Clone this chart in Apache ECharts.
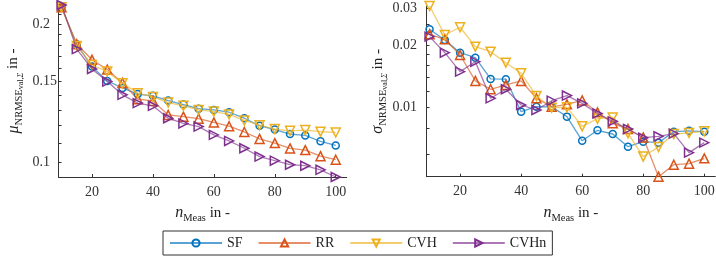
<!DOCTYPE html>
<html><head><meta charset="utf-8">
<script src="https://cdn.jsdelivr.net/npm/echarts@6/dist/echarts.min.js"></script>
<style>html,body{margin:0;padding:0;background:#fff}#c{width:716px;height:256px}</style>
</head><body><div id="c"></div>
<script>
// ---- data ----
const nMeas = [10,15,20,25,30,35,40,45,50,55,60,65,70,75,80,85,90,95,100];
const muSF   = [0.2172,0.1805,0.1614,0.1502,0.1450,0.1406,0.1394,0.1361,0.1334,0.1307,0.1299,0.1284,0.1246,0.1200,0.1177,0.1151,0.1143,0.1110,0.1087];
const muRR   = [0.2172,0.1805,0.1670,0.1590,0.1487,0.1371,0.1359,0.1267,0.1256,0.1243,0.1220,0.1197,0.1163,0.1123,0.1100,0.1071,0.1062,0.1030,0.1012];
const muCVH  = [0.2172,0.1790,0.1627,0.1574,0.1485,0.1413,0.1386,0.1348,0.1326,0.1299,0.1288,0.1270,0.1232,0.1203,0.1180,0.1170,0.1174,0.1165,0.1160];
const muCVHn = [0.2198,0.1762,0.1595,0.1497,0.1401,0.1344,0.1326,0.1246,0.1214,0.1195,0.1146,0.1112,0.1072,0.1028,0.1007,0.0987,0.0982,0.0962,0.0928];
const sdSF   = [0.02375,0.0211,0.01834,0.01736,0.01373,0.0137,0.00957,0.01011,0.0101,0.00906,0.00694,0.00779,0.00748,0.00650,0.00687,0.0068,0.00767,0.00775,0.00767];
const sdRR   = [0.02247,0.02127,0.01788,0.01343,0.01225,0.01285,0.01343,0.01109,0.0101,0.01038,0.01083,0.00950,0.00842,0.0079,0.0072,0.00467,0.00533,0.00539,0.00572];
const sdCVH  = [0.0307,0.0223,0.02428,0.0196,0.01855,0.01643,0.01462,0.01138,0.0100,0.01004,0.00814,0.00885,0.00898,0.00754,0.00583,0.00648,0.00747,0.00757,0.0077];
const sdCVHn = [0.02189,0.01834,0.01488,0.01661,0.01109,0.01225,0.0103,0.00975,0.0108,0.01143,0.01049,0.00938,0.0086,0.0079,0.00718,0.00729,0.00751,0.00609,0.0068];
const methods = ['SF','RR','CVH','CVHn'];
const xTicks = [20,40,60,80,100];
const muLabels = [0.1,0.15,0.2];
const muTicks = [0.1,0.11,0.12,0.13,0.14,0.15,0.16,0.17,0.18,0.19,0.2,0.21];
const sdLabels = [0.01,0.02,0.03];
const sdTicks = [0.006,0.008,0.01,0.012,0.014,0.016,0.018,0.02,0.025,0.03];

// ---- style ----
const FONT = "'Liberation Serif', 'DejaVu Serif', serif";
const colors = ['#0072BD','#D95319','#EDB120','#7E2F8E'];
const lineColors = ['rgba(0,114,189,0.65)','rgba(217,83,25,0.65)','rgba(237,177,32,0.65)','rgba(126,47,142,0.65)'];
const symbols = ['circle','triangle','triangle','triangle'];
const rots = [0,0,180,-90];
const sizes = [7,9,9,9];
const AX = '#333';

function series(idx, vals, ai){
  return {
    type:'line', name:methods[idx], xAxisIndex:ai, yAxisIndex:ai,
    data: nMeas.map((n,i)=>[n, vals[i]]),
    symbol: symbols[idx], symbolRotate: rots[idx], symbolSize: sizes[idx], showSymbol:true,
    lineStyle:{color:lineColors[idx], width:1.3},
    itemStyle:{color:'rgba(255,255,255,0)', borderColor:colors[idx], borderWidth:1.5},
    clip:false, animation:false, z: 2+idx
  };
}
const rich = {
  m:{fontFamily:FONT,fontSize:15,lineHeight:22,verticalAlign:'middle',color:'#222'},
  it:{fontFamily:FONT,fontSize:16,fontStyle:'italic',lineHeight:22,verticalAlign:'middle',color:'#222'},
  sub:{fontFamily:FONT,fontSize:10.5,lineHeight:13,verticalAlign:'bottom',color:'#222'},
  ss:{fontFamily:FONT,fontSize:8,lineHeight:7,verticalAlign:'bottom',color:'#222'},
  ssi:{fontFamily:FONT,fontSize:8,fontStyle:'italic',lineHeight:7,verticalAlign:'bottom',color:'#222'}
};
function xAxis(gi){
  return {
    gridIndex:gi, type:'value', min:9, max:103.6, position:'bottom',
    axisLine:{show:true,onZero:false,lineStyle:{color:AX,width:1}},
    axisTick:{show:true,inside:true,length:3,customValues:xTicks,lineStyle:{color:AX}},
    axisLabel:{customValues:xTicks,margin:8,fontFamily:FONT,fontSize:14,color:'#333'},
    splitLine:{show:false},
    name:'{it|n}{sub|Meas}{m| in -}', nameLocation:'middle', nameGap:25,
    nameTextStyle:{rich:rich}
  };
}
function fmt(v){ return String(Math.round(v*1000)/1000); }
function yAxis(gi, ticks, labels, nm, margin, gap){
  return {
    gridIndex:gi, type:'log', logBase:10, min:'dataMin', max:'dataMax',
    axisLine:{show:true,lineStyle:{color:AX,width:1}},
    axisTick:{show:true,inside:true,length:3,customValues:ticks,lineStyle:{color:AX}},
    axisLabel:{customValues:labels,align:'left',margin:margin,fontFamily:FONT,fontSize:14,color:'#333',formatter:fmt},
    splitLine:{show:false}, minorTick:{show:false}, minorSplitLine:{show:false},
    name:nm, nameLocation:'middle', nameGap:gap, nameRotate:90,
    nameTextStyle:{rich:rich}
  };
}

const chart = echarts.init(document.getElementById('c'), null, {renderer:'canvas'});
const muData = [muSF,muRR,muCVH,muCVHn];
const sdData = [sdSF,sdRR,sdCVH,sdCVHn];
chart.setOption({
  animation:false,
  backgroundColor:'#fff',
  grid:[
    {left:58.5, right:369.3, top:5, bottom:79, containLabel:false, outerBoundsMode:'none'},
    {left:426.5, right:0.7, top:6, bottom:79.3, containLabel:false, outerBoundsMode:'none'}
  ],
  xAxis:[xAxis(0), xAxis(1)],
  yAxis:[
    yAxis(0, muTicks, muLabels, '{it|μ}{sub|NRMSE}{ss|val,}{ssi|Σ}{m| in -}', 26, 34),
    yAxis(1, sdTicks, sdLabels, '{it|σ}{sub|NRMSE}{ss|val,}{ssi|Σ}{m| in -}', 34, 33)
  ],
  legend:{
    data:methods, left:163, top:231, orient:'horizontal', padding:[5,6],
    itemWidth:52, itemHeight:9, itemGap:15,
    borderColor:'#333', borderWidth:1, borderRadius:0,
    textStyle:{fontFamily:FONT,fontSize:14,color:'#222',width:32}
  },
  series:[
    ...muData.map((d,i)=>series(i,d,0)),
    ...sdData.map((d,i)=>series(i,d,1))
  ]
});
</script></body></html>
